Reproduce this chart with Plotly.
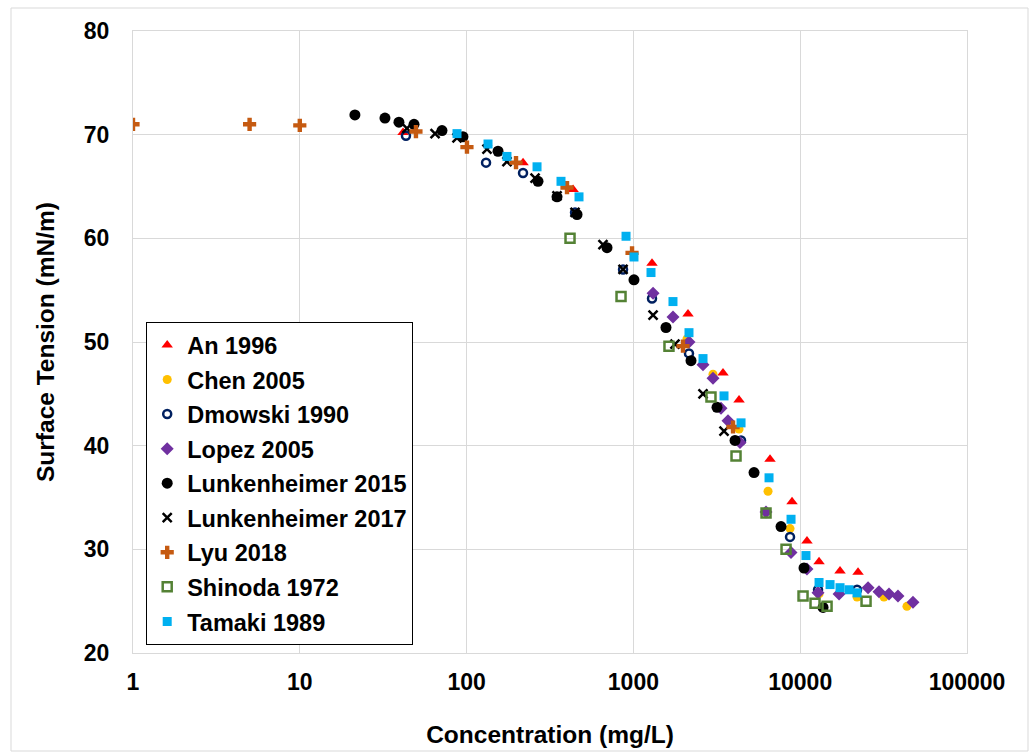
import plotly.graph_objects as go

# ---- data ----
an_x = [41.6, 218, 435, 1293, 2125, 3445, 4299, 6593, 8933, 10980, 12970, 17330, 22220]
an_y = [70.2, 67.3, 64.7, 57.6, 52.7, 47.0, 44.4, 38.7, 34.6, 30.8, 28.8, 27.9, 27.8]

chen_x = [2095, 3000, 4299, 6414, 8690, 12970, 21920, 31790, 43650]
chen_y = [50.3, 46.9, 41.6, 35.6, 32.0, 25.7, 25.4, 25.4, 24.5]

dmow_x = [43.3, 130.8, 217.9, 446.7, 866.7, 1293, 2154, 4419, 8690, 12790, 21920]
dmow_y = [69.9, 67.3, 66.3, 62.5, 57.0, 54.2, 48.9, 40.5, 31.2, 26.1, 26.1]

lopez_x = [1312, 1727, 2154, 2614, 3000, 3352, 3692, 4358, 6239, 8811, 10980, 12790, 17100,
           25520, 29680, 34070, 38560, 47430]
lopez_y = [54.7, 52.4, 50.0, 47.8, 46.5, 43.6, 42.4, 40.3, 33.6, 29.7, 28.1, 25.8, 25.7,
           26.3, 25.9, 25.7, 25.5, 24.9]

lunk15_x = [21.4, 32.4, 39.3, 48.4, 71.2, 95.1, 154.3, 268, 348.4, 459.2, 694.7, 1008, 1568,
            2215, 3171, 4067, 5287, 7674, 10540, 13710]
lunk15_y = [71.9, 71.6, 71.2, 71.0, 70.4, 69.8, 68.4, 65.5, 64.0, 62.3, 59.1, 56.0, 51.4,
            48.2, 43.7, 40.5, 37.4, 32.2, 28.2, 24.4]

lunk17_x = [43.9, 64.7, 87.6, 132.5, 174.6, 257.3, 348.4, 446.7, 657.1, 866.7, 1312, 1775, 2614, 3493]
lunk17_y = [70.6, 70.1, 69.7, 68.6, 67.4, 65.8, 64.1, 62.5, 59.4, 57.0, 52.6, 49.8, 45.0, 41.4]

lyu_x = [1, 5, 10, 49.7, 100.5, 197.8, 399.9, 981.4, 1983, 3956]
lyu_y = [71.0, 71.0, 70.9, 70.3, 68.8, 67.3, 64.9, 58.6, 49.6, 41.8]

shin_x = [416.9, 843, 1634, 2918, 4123, 6239, 8225, 10400, 12270, 14490, 24820]
shin_y = [60.0, 54.4, 49.6, 44.7, 39.0, 33.5, 30.0, 25.5, 24.8, 24.5, 25.0]

tam_x = [87.6, 134.4, 174.6, 264.4, 368.1, 472, 903.3, 1008, 1275, 1727, 2154, 2614, 3493,
         4419, 6503, 8811, 10830, 12970, 15100, 17330, 19630, 21920]
tam_y = [70.1, 69.1, 67.9, 66.9, 65.5, 64.0, 60.2, 58.2, 56.7, 53.9, 50.9, 48.4, 44.8,
         42.2, 36.9, 32.9, 29.4, 26.8, 26.6, 26.3, 26.1, 25.8]

x_tick_vals = [1, 10, 100, 1000, 10000, 100000]
x_tick_text = ["1", "10", "100", "1000", "10000", "100000"]
y_tick_vals = [20, 30, 40, 50, 60, 70, 80]

FONT = "Liberation Sans, Arial, sans-serif"

series = [
    ("An 1996", an_x, an_y, dict(symbol="triangle-up", size=10, color="#FF0000")),
    ("Chen 2005", chen_x, chen_y, dict(symbol="circle", size=9, color="#FFC000")),
    ("Dmowski 1990", dmow_x, dmow_y, dict(symbol="circle-open", size=8, color="#002060",
                                          line=dict(width=2.5, color="#002060"))),
    ("Lopez 2005", lopez_x, lopez_y, dict(symbol="diamond", size=10, color="#7030A0")),
    ("Lunkenheimer 2015", lunk15_x, lunk15_y, dict(symbol="circle", size=11, color="#000000")),
    ("Lunkenheimer 2017", lunk17_x, lunk17_y, dict(symbol="x-thin-open", size=9, color="#000000",
                                                   line=dict(width=2.5, color="#000000"))),
    ("Lyu 2018", lyu_x, lyu_y, dict(symbol="cross", size=11, color="#C55A11")),
    ("Shinoda 1972", shin_x, shin_y, dict(symbol="square-open", size=9, color="#548235",
                                          line=dict(width=2.5, color="#548235"))),
    ("Tamaki 1989", tam_x, tam_y, dict(symbol="square", size=9, color="#00B0F0")),
]

fig = go.Figure()
for i, (name, xs, ys, mk) in enumerate(series):
    fig.add_trace(go.Scatter(x=xs, y=ys, mode="markers", name=name, marker=mk,
                             legendgroup=f"g{i}"))

L, R, T, B = 133, 63, 31, 99
W, H = 1030, 752
pw, ph = W - L - R, H - T - B

fig.update_layout(
    width=W, height=H,
    margin=dict(l=L, r=R, t=T, b=B, autoexpand=False),
    paper_bgcolor="white", plot_bgcolor="white",
    font=dict(family=FONT, color="#000000", size=23),
    showlegend=True,
    legend=dict(
        x=(146 - L) / pw, y=(H - B - 322) / ph, xanchor="left", yanchor="top",
        bordercolor="#000000", borderwidth=1.2, bgcolor="white",
        font=dict(family=FONT, size=23.5, color="#000000", weight="bold"),
        tracegroupgap=1, itemsizing="trace",
    ),
    xaxis=dict(
        type="log", range=[0, 5], tickvals=x_tick_vals, ticktext=x_tick_text,
        showgrid=True, gridcolor="#D9D9D9", gridwidth=1,
        showline=True, linecolor="#D9D9D9", linewidth=1, mirror=True,
        ticks="", zeroline=False, automargin=False,
        tickfont=dict(family=FONT, size=23, color="#000000", weight="bold"),
        ticklabelstandoff=8,
        title=dict(text="Concentration (mg/L)", standoff=32,
                   font=dict(family=FONT, size=24.5, color="#000000", weight="bold")),
    ),
    yaxis=dict(
        range=[20, 80], tickvals=y_tick_vals,
        showgrid=True, gridcolor="#D9D9D9", gridwidth=1,
        showline=True, linecolor="#D9D9D9", linewidth=1, mirror=True,
        ticks="", zeroline=False, automargin=False,
        tickfont=dict(family=FONT, size=23, color="#000000", weight="bold"),
        ticklabelstandoff=18,
        title=dict(text="Surface Tension (mN/m)", standoff=22,
                   font=dict(family=FONT, size=24.5, color="#000000", weight="bold")),
    ),
    shapes=[dict(type="rect", xref="paper", yref="paper",
                 x0=(11 - L) / pw, x1=(1028 - L) / pw,
                 y0=(H - B - 751) / ph, y1=(H - B - 8) / ph,
                 line=dict(color="#D9D9D9", width=1), fillcolor="rgba(0,0,0,0)",
                 layer="below")],
)

fig.write_html("out.html")
